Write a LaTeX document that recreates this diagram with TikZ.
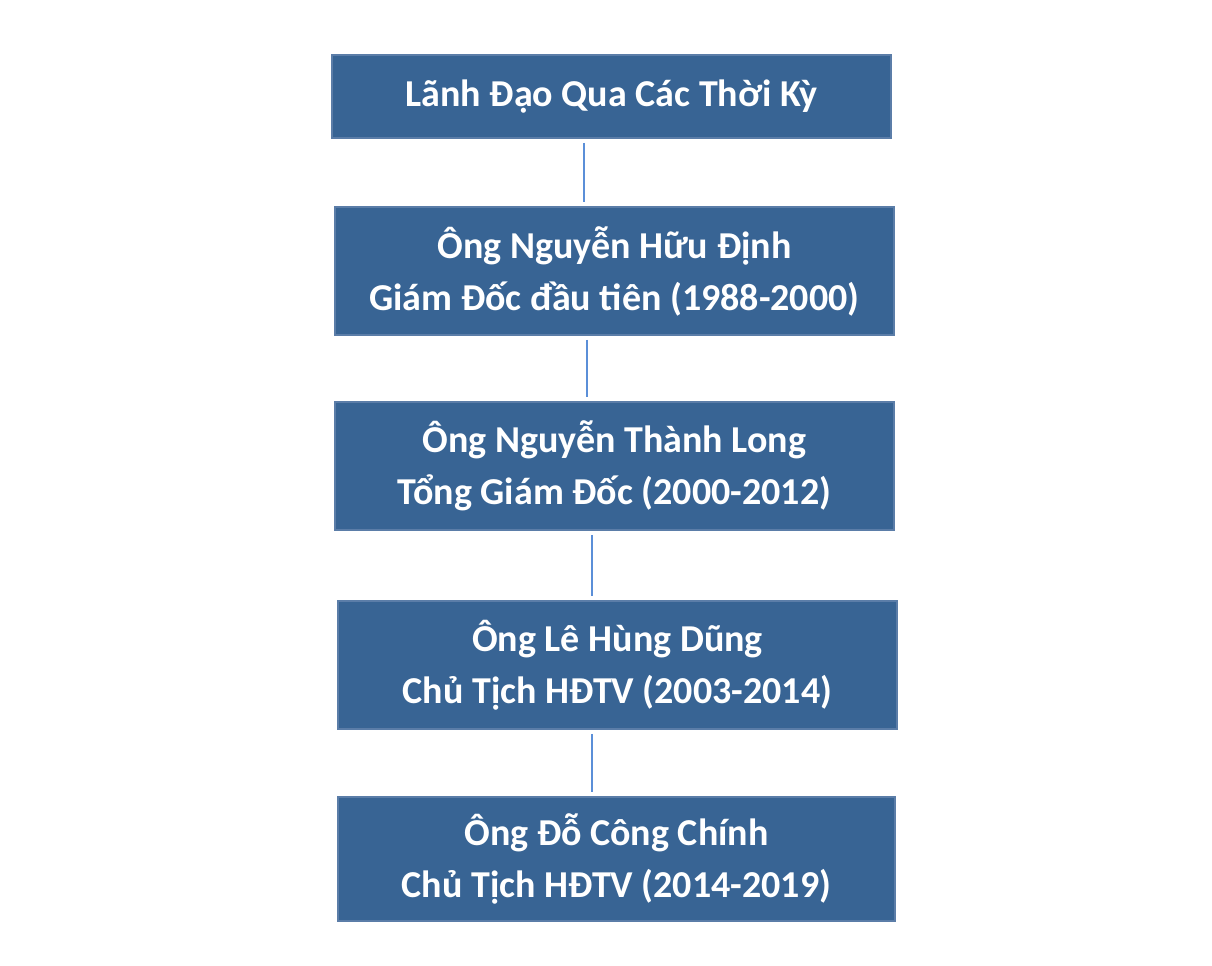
\documentclass[tikz,border=0pt]{standalone}
\usepackage{fontspec}
\setmainfont{Carlito}
\definecolor{boxfill}{HTML}{386494}
\definecolor{boxline}{HTML}{5B7DA8}
\definecolor{conn}{HTML}{5B8FD8}
\begin{document}
\begin{tikzpicture}[x=0.75pt,y=-0.75pt,
  lead/.style={draw=boxline, line width=1.2pt, fill=boxfill, text=white, inner sep=0pt,
    minimum width=559*0.75pt, align=center,
    font=\fontsize{28.5}{39}\selectfont\bfseries},
  link/.style={draw=conn, line width=1.5pt, shorten <=4*0.75pt, shorten >=4*0.75pt}]
\useasboundingbox (0,0) rectangle (1212,966);
\node[lead, minimum height=83*0.75pt] (n1) at (611.5,96.5) {Lãnh Đạo Qua Các Thời Kỳ};
\node[lead, minimum height=128*0.75pt] (n2) at (614.5,271) {Ông Nguyễn Hữu Định\\Giám Đốc đầu tiên (1988-2000)};
\node[lead, minimum height=128*0.75pt] (n3) at (614.5,466) {Ông Nguyễn Thành Long\\Tổng Giám Đốc (2000-2012)};
\node[lead, minimum height=128*0.75pt] (n4) at (617.5,665) {Ông Lê Hùng Dũng\\Chủ Tịch HĐTV (2003-2014)};
\node[lead, minimum height=124*0.75pt, minimum width=557*0.75pt] (n5) at (616.5,859) {Ông Đỗ Công Chính\\Chủ Tịch HĐTV (2014-2019)};
\coordinate (c1) at (584,0);
\coordinate (c2) at (587,0);
\coordinate (c3) at (592,0);
\draw[link] (n1.south -| c1) -- (n2.north -| c1);
\draw[link] (n2.south -| c2) -- (n3.north -| c2);
\draw[link] (n3.south -| c3) -- (n4.north -| c3);
\draw[link] (n4.south -| c3) -- (n5.north -| c3);
\end{tikzpicture}
\end{document}
